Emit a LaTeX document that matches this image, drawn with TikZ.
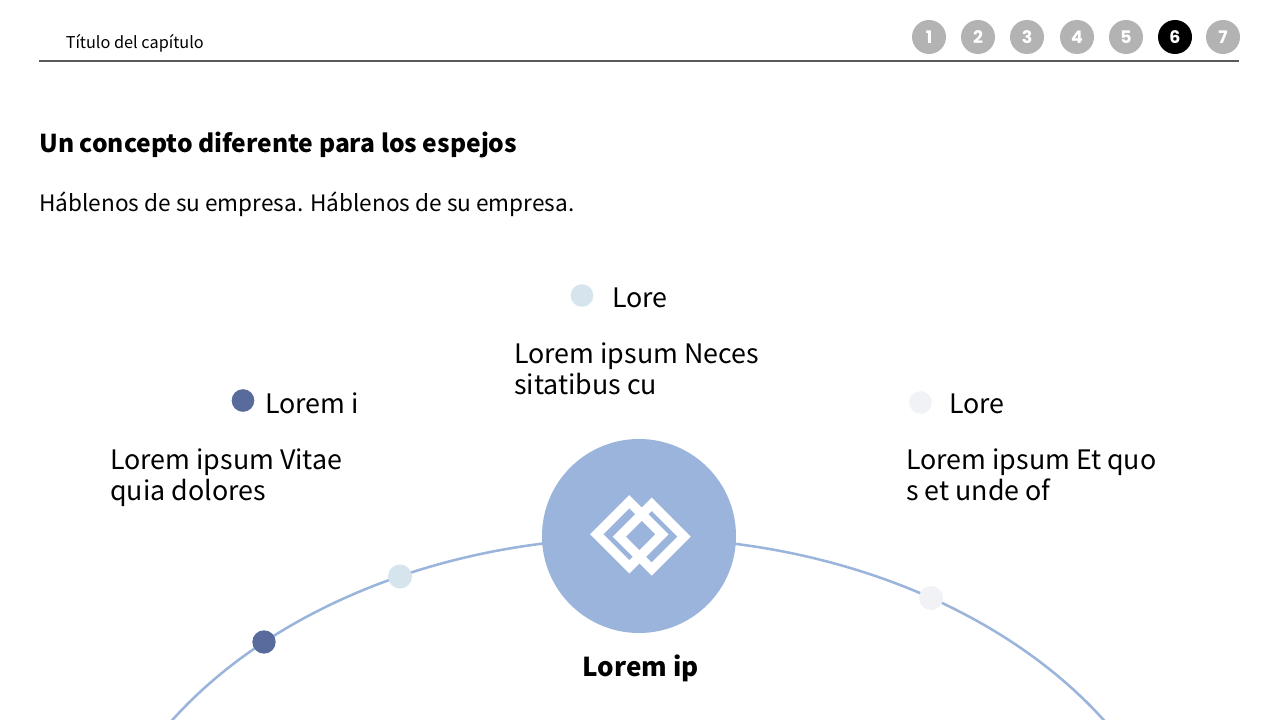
\documentclass[tikz,border=0pt]{standalone}
\usepackage{fontspec}
\setmainfont{Noto Sans CJK SC}
\newfontfamily\popf{Poppins}
\definecolor{arcblue}{HTML}{9BB4DC}
\definecolor{navy}{HTML}{596A9C}
\definecolor{pale}{HTML}{D6E5ED}
\definecolor{paler}{HTML}{F0F2F5}
\definecolor{grayb}{HTML}{B3B3B3}
\definecolor{rulec}{HTML}{595959}
\tikzset{
 x=0.75pt,y=-0.75pt,
 badge/.style={circle,fill=grayb,minimum size=25.5pt,inner sep=0pt,text=white,font=\popf\bfseries\fontsize{13}{14}\selectfont},
 active/.style={badge,fill=black},
 lab/.style={anchor=base west,inner sep=0pt,font=\fontsize{20.1}{24}\selectfont},
 dot/.style={circle,minimum size=17pt,inner sep=0pt},
 para/.style={anchor=north west,inner sep=0pt,align=left,font=\fontsize{20.1}{23.7}\selectfont},
 icon/.style={draw=white,line width=7pt,miter limit=10},
}
\begin{document}
\begin{tikzpicture}
\useasboundingbox[fill=white] (0,0) rectangle (1280,720);
\begin{scope}
\clip (0,0) rectangle (1280,720);
\draw[arcblue,line width=1.9pt] (638,936.7) ellipse[x radius=554.5,y radius=399];
\end{scope}
\draw[rulec,line width=1.1pt] (39,61) -- (1239,61);
\node[anchor=base west,inner sep=0pt,font=\fontsize{12.2}{15}\selectfont] (chap) at (65.5,49) {Título del capítulo};
\foreach \n/\x in {1/929,2/978,3/1027,4/1077,5/1126,7/1223}{\node[badge] (b\n) at (\x,37) {\n};}
\node[active] (b6) at (1175,37) {6};
\node[anchor=base west,inner sep=0pt,font=\bfseries\fontsize{18.45}{23}\selectfont] (title) at (39,153) {Un concepto diferente para los espejos};
\node[anchor=base west,inner sep=0pt,font=\fontsize{16.95}{21}\selectfont] (sub) at (39,212) {Háblenos de su empresa. Háblenos de su empresa.};
\node[dot,fill=pale] (d2) at (582,295.5) {};
\node[lab] (l2) at (612,307.5) {Lore};
\node[para] (p2) at (514,342) {Lorem ipsum Neces\\sitatibus cu};
\node[dot,fill=navy] (d1) at (243,400.5) {};
\node[lab] (l1) at (265,413.5) {Lorem i};
\node[para] (p1) at (110,448) {Lorem ipsum Vitae\\quia dolores};
\node[dot,fill=paler] (d3) at (920.5,402.5) {};
\node[lab] (l3) at (949,413.5) {Lore};
\node[para] (p3) at (906,448) {Lorem ipsum Et quo\\s et unde of};
\node[dot,fill=pale,minimum size=18pt] (a2) at (400,576.5) {};
\node[dot,fill=navy,minimum size=17.5pt] (a1) at (264,642) {};
\node[dot,fill=paler,minimum size=18pt] (a3) at (931,598) {};
\node[circle,fill=arcblue,minimum size=145.5pt,inner sep=0pt] (hub) at (639,536) {};
\draw[icon] (596.7,534.3) -- (629.3,501.7) -- (661.9,534.3) -- (629.3,566.9) -- cycle;
\draw[icon] (619.3,536.7) -- (651.7,504.3) -- (684.1,536.7) -- (651.7,569.1) -- cycle;
\node[anchor=base,inner sep=0pt,font=\bfseries\fontsize{19.5}{24}\selectfont] (hl) at (640.5,676) {Lorem ip};
\end{tikzpicture}
\end{document}
